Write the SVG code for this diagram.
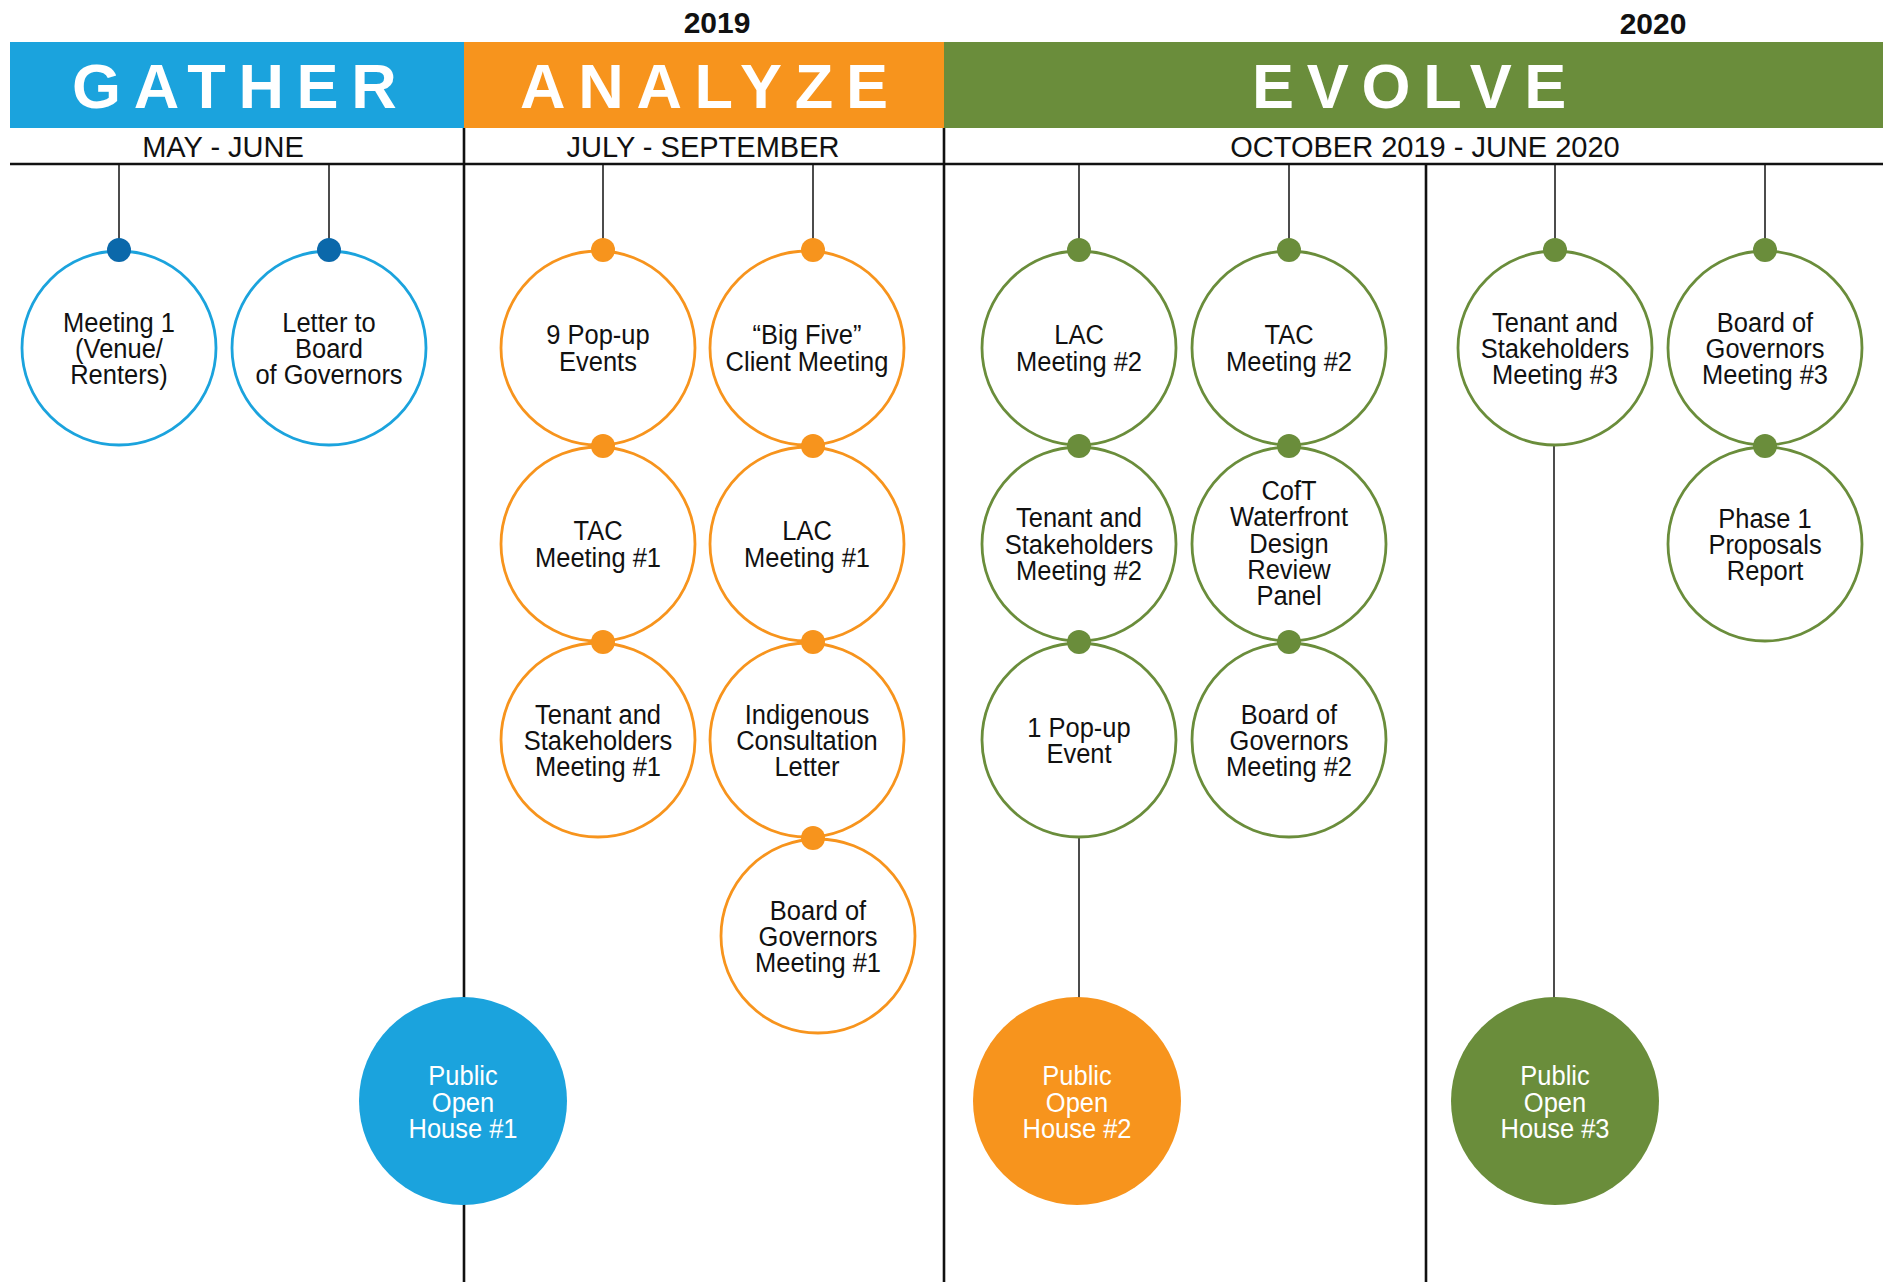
<svg xmlns="http://www.w3.org/2000/svg" width="1892" height="1282" viewBox="0 0 1892 1282">
<style>
.bg{fill:#ffffff}
.hdr{font-family:"Liberation Sans",Arial,sans-serif;font-weight:bold;font-size:63px;fill:#ffffff;letter-spacing:12.7px}
.yr{font-family:"Liberation Sans",Arial,sans-serif;font-weight:bold;font-size:30px;fill:#111111;text-anchor:middle}
.sub{font-family:"Liberation Sans",Arial,sans-serif;font-size:29px;fill:#111111;text-anchor:middle}
.div{stroke:#111111;stroke-width:2.6;fill:none}
.con{stroke:#111111;stroke-width:1.5;fill:none}
.nt{font-family:"Liberation Sans",Arial,sans-serif;font-size:28px;fill:#111111;text-anchor:middle}
.wt{font-family:"Liberation Sans",Arial,sans-serif;font-size:28px;fill:#ffffff;text-anchor:middle}
.cb{fill:#ffffff;stroke:#1ba3dd;stroke-width:2.8}
.co{fill:#ffffff;stroke:#f7941d;stroke-width:2.8}
.cg{fill:#ffffff;stroke:#6a8d3b;stroke-width:2.8}
.db{fill:#0b68aa}
.do{fill:#f7941d}
.dg{fill:#6a8d3b}
</style>
<rect class="bg" x="0" y="0" width="1892" height="1282"/>
<g id="header">
<rect x="10" y="42" width="454" height="86" fill="#1ba3dd"/>
<rect x="464" y="42" width="480" height="86" fill="#f7941d"/>
<rect x="944" y="42" width="939" height="86" fill="#6a8d3b"/>
<text class="hdr" x="72" y="108">GATHER</text>
<text class="hdr" x="520" y="108">ANALYZE</text>
<text class="hdr" x="1252" y="108">EVOLVE</text>
<text class="yr" x="717" y="33">2019</text>
<text class="yr" x="1653" y="34">2020</text>
<text class="sub" x="223" y="157">MAY - JUNE</text>
<text class="sub" x="703" y="157">JULY - SEPTEMBER</text>
<text class="sub" x="1425" y="157">OCTOBER 2019 - JUNE 2020</text>
</g>
<g id="connectors">
<line class="div" x1="10" y1="164" x2="1883" y2="164"/>
<line class="div" x1="464" y1="128" x2="464" y2="1282"/>
<line class="div" x1="944" y1="128" x2="944" y2="1282"/>
<line class="div" x1="1426" y1="164" x2="1426" y2="1282"/>
<line class="con" x1="119" y1="164" x2="119" y2="250"/>
<line class="con" x1="329" y1="164" x2="329" y2="250"/>
<line class="con" x1="603" y1="164" x2="603" y2="250"/>
<line class="con" x1="813" y1="164" x2="813" y2="250"/>
<line class="con" x1="1079" y1="164" x2="1079" y2="250"/>
<line class="con" x1="1289" y1="164" x2="1289" y2="250"/>
<line class="con" x1="1555" y1="164" x2="1555" y2="250"/>
<line class="con" x1="1765" y1="164" x2="1765" y2="250"/>
<line class="con" x1="1079" y1="837" x2="1079" y2="1000"/>
<line class="con" x1="1554" y1="445" x2="1554" y2="1000"/>
</g>
<g id="meeting1">
<circle class="cb" cx="119" cy="348" r="97"/>
<circle class="db" cx="119" cy="250" r="12"/>
<text class="nt" transform="translate(119 348) scale(0.91 1)"><tspan x="0" y="-16.5">Meeting 1</tspan><tspan x="0" y="10">(Venue/</tspan><tspan x="0" y="36.5">Renters)</tspan></text>
</g>
<g id="letter-board">
<circle class="cb" cx="329" cy="348" r="97"/>
<circle class="db" cx="329" cy="250" r="12"/>
<text class="nt" transform="translate(329 348) scale(0.91 1)"><tspan x="0" y="-16.5">Letter to</tspan><tspan x="0" y="10">Board</tspan><tspan x="0" y="36.5">of Governors</tspan></text>
</g>
<g id="popup9">
<circle class="co" cx="598" cy="348" r="97"/>
<text class="nt" transform="translate(598 348) scale(0.91 1)"><tspan x="0" y="-4">9 Pop-up</tspan><tspan x="0" y="22.5">Events</tspan></text>
</g>
<g id="bigfive">
<circle class="co" cx="807" cy="348" r="97"/>
<text class="nt" transform="translate(807 348) scale(0.91 1)"><tspan x="0" y="-4">“Big Five”</tspan><tspan x="0" y="22.5">Client Meeting</tspan></text>
</g>
<g id="tac1">
<circle class="co" cx="598" cy="544" r="97"/>
<text class="nt" transform="translate(598 544) scale(0.91 1)"><tspan x="0" y="-4">TAC</tspan><tspan x="0" y="22.5">Meeting #1</tspan></text>
</g>
<g id="lac1">
<circle class="co" cx="807" cy="544" r="97"/>
<text class="nt" transform="translate(807 544) scale(0.91 1)"><tspan x="0" y="-4">LAC</tspan><tspan x="0" y="22.5">Meeting #1</tspan></text>
</g>
<g id="tenant1">
<circle class="co" cx="598" cy="740" r="97"/>
<text class="nt" transform="translate(598 740) scale(0.91 1)"><tspan x="0" y="-16.5">Tenant and</tspan><tspan x="0" y="10">Stakeholders</tspan><tspan x="0" y="36.5">Meeting #1</tspan></text>
</g>
<g id="indigenous">
<circle class="co" cx="807" cy="740" r="97"/>
<text class="nt" transform="translate(807 740) scale(0.91 1)"><tspan x="0" y="-16.5">Indigenous</tspan><tspan x="0" y="10">Consultation</tspan><tspan x="0" y="36.5">Letter</tspan></text>
</g>
<g id="board1">
<circle class="co" cx="818" cy="936" r="97"/>
<text class="nt" transform="translate(818 936) scale(0.91 1)"><tspan x="0" y="-16.5">Board of</tspan><tspan x="0" y="10">Governors</tspan><tspan x="0" y="36.5">Meeting #1</tspan></text>
</g>
<g id="analyze-dots">
<circle class="do" cx="603" cy="250" r="12"/>
<circle class="do" cx="813" cy="250" r="12"/>
<circle class="do" cx="603" cy="446" r="12"/>
<circle class="do" cx="813" cy="446" r="12"/>
<circle class="do" cx="603" cy="642" r="12"/>
<circle class="do" cx="813" cy="642" r="12"/>
<circle class="do" cx="813" cy="838" r="12"/>
</g>
<g id="lac2">
<circle class="cg" cx="1079" cy="348" r="97"/>
<text class="nt" transform="translate(1079 348) scale(0.91 1)"><tspan x="0" y="-4">LAC</tspan><tspan x="0" y="22.5">Meeting #2</tspan></text>
</g>
<g id="tac2">
<circle class="cg" cx="1289" cy="348" r="97"/>
<text class="nt" transform="translate(1289 348) scale(0.91 1)"><tspan x="0" y="-4">TAC</tspan><tspan x="0" y="22.5">Meeting #2</tspan></text>
</g>
<g id="tenant2">
<circle class="cg" cx="1079" cy="544" r="97"/>
<text class="nt" transform="translate(1079 544) scale(0.91 1)"><tspan x="0" y="-17">Tenant and</tspan><tspan x="0" y="9.5">Stakeholders</tspan><tspan x="0" y="36">Meeting #2</tspan></text>
</g>
<g id="cofT">
<circle class="cg" cx="1289" cy="544" r="97"/>
<text class="nt" transform="translate(1289 544) scale(0.91 1)"><tspan x="0" y="-44">CofT</tspan><tspan x="0" y="-17.75">Waterfront</tspan><tspan x="0" y="8.5">Design</tspan><tspan x="0" y="34.75">Review</tspan><tspan x="0" y="61">Panel</tspan></text>
</g>
<g id="popup1">
<circle class="cg" cx="1079" cy="740" r="97"/>
<text class="nt" transform="translate(1079 740) scale(0.91 1)"><tspan x="0" y="-3.5">1 Pop-up</tspan><tspan x="0" y="23">Event</tspan></text>
</g>
<g id="board2">
<circle class="cg" cx="1289" cy="740" r="97"/>
<text class="nt" transform="translate(1289 740) scale(0.91 1)"><tspan x="0" y="-16.5">Board of</tspan><tspan x="0" y="10">Governors</tspan><tspan x="0" y="36.5">Meeting #2</tspan></text>
</g>
<g id="tenant3">
<circle class="cg" cx="1555" cy="348" r="97"/>
<text class="nt" transform="translate(1555 348) scale(0.91 1)"><tspan x="0" y="-16.5">Tenant and</tspan><tspan x="0" y="10">Stakeholders</tspan><tspan x="0" y="36.5">Meeting #3</tspan></text>
</g>
<g id="board3">
<circle class="cg" cx="1765" cy="348" r="97"/>
<text class="nt" transform="translate(1765 348) scale(0.91 1)"><tspan x="0" y="-16.5">Board of</tspan><tspan x="0" y="10">Governors</tspan><tspan x="0" y="36.5">Meeting #3</tspan></text>
</g>
<g id="phase1">
<circle class="cg" cx="1765" cy="544" r="97"/>
<text class="nt" transform="translate(1765 544) scale(0.91 1)"><tspan x="0" y="-16.5">Phase 1</tspan><tspan x="0" y="10">Proposals</tspan><tspan x="0" y="36.5">Report</tspan></text>
</g>
<g id="evolve-dots">
<circle class="dg" cx="1079" cy="250" r="12"/>
<circle class="dg" cx="1289" cy="250" r="12"/>
<circle class="dg" cx="1079" cy="446" r="12"/>
<circle class="dg" cx="1289" cy="446" r="12"/>
<circle class="dg" cx="1079" cy="642" r="12"/>
<circle class="dg" cx="1289" cy="642" r="12"/>
<circle class="dg" cx="1555" cy="250" r="12"/>
<circle class="dg" cx="1765" cy="250" r="12"/>
<circle class="dg" cx="1765" cy="446" r="12"/>
</g>
<g id="openhouse1">
<circle cx="463" cy="1101" r="104" fill="#1ba3dd"/>
<text class="wt" transform="translate(463 1101) scale(0.91 1)"><tspan x="0" y="-16">Public</tspan><tspan x="0" y="10.5">Open</tspan><tspan x="0" y="37">House #1</tspan></text>
</g>
<g id="openhouse2">
<circle cx="1077" cy="1101" r="104" fill="#f7941d"/>
<text class="wt" transform="translate(1077 1101) scale(0.91 1)"><tspan x="0" y="-16">Public</tspan><tspan x="0" y="10.5">Open</tspan><tspan x="0" y="37">House #2</tspan></text>
</g>
<g id="openhouse3">
<circle cx="1555" cy="1101" r="104" fill="#6a8d3b"/>
<text class="wt" transform="translate(1555 1101) scale(0.91 1)"><tspan x="0" y="-16">Public</tspan><tspan x="0" y="10.5">Open</tspan><tspan x="0" y="37">House #3</tspan></text>
</g>
</svg>
